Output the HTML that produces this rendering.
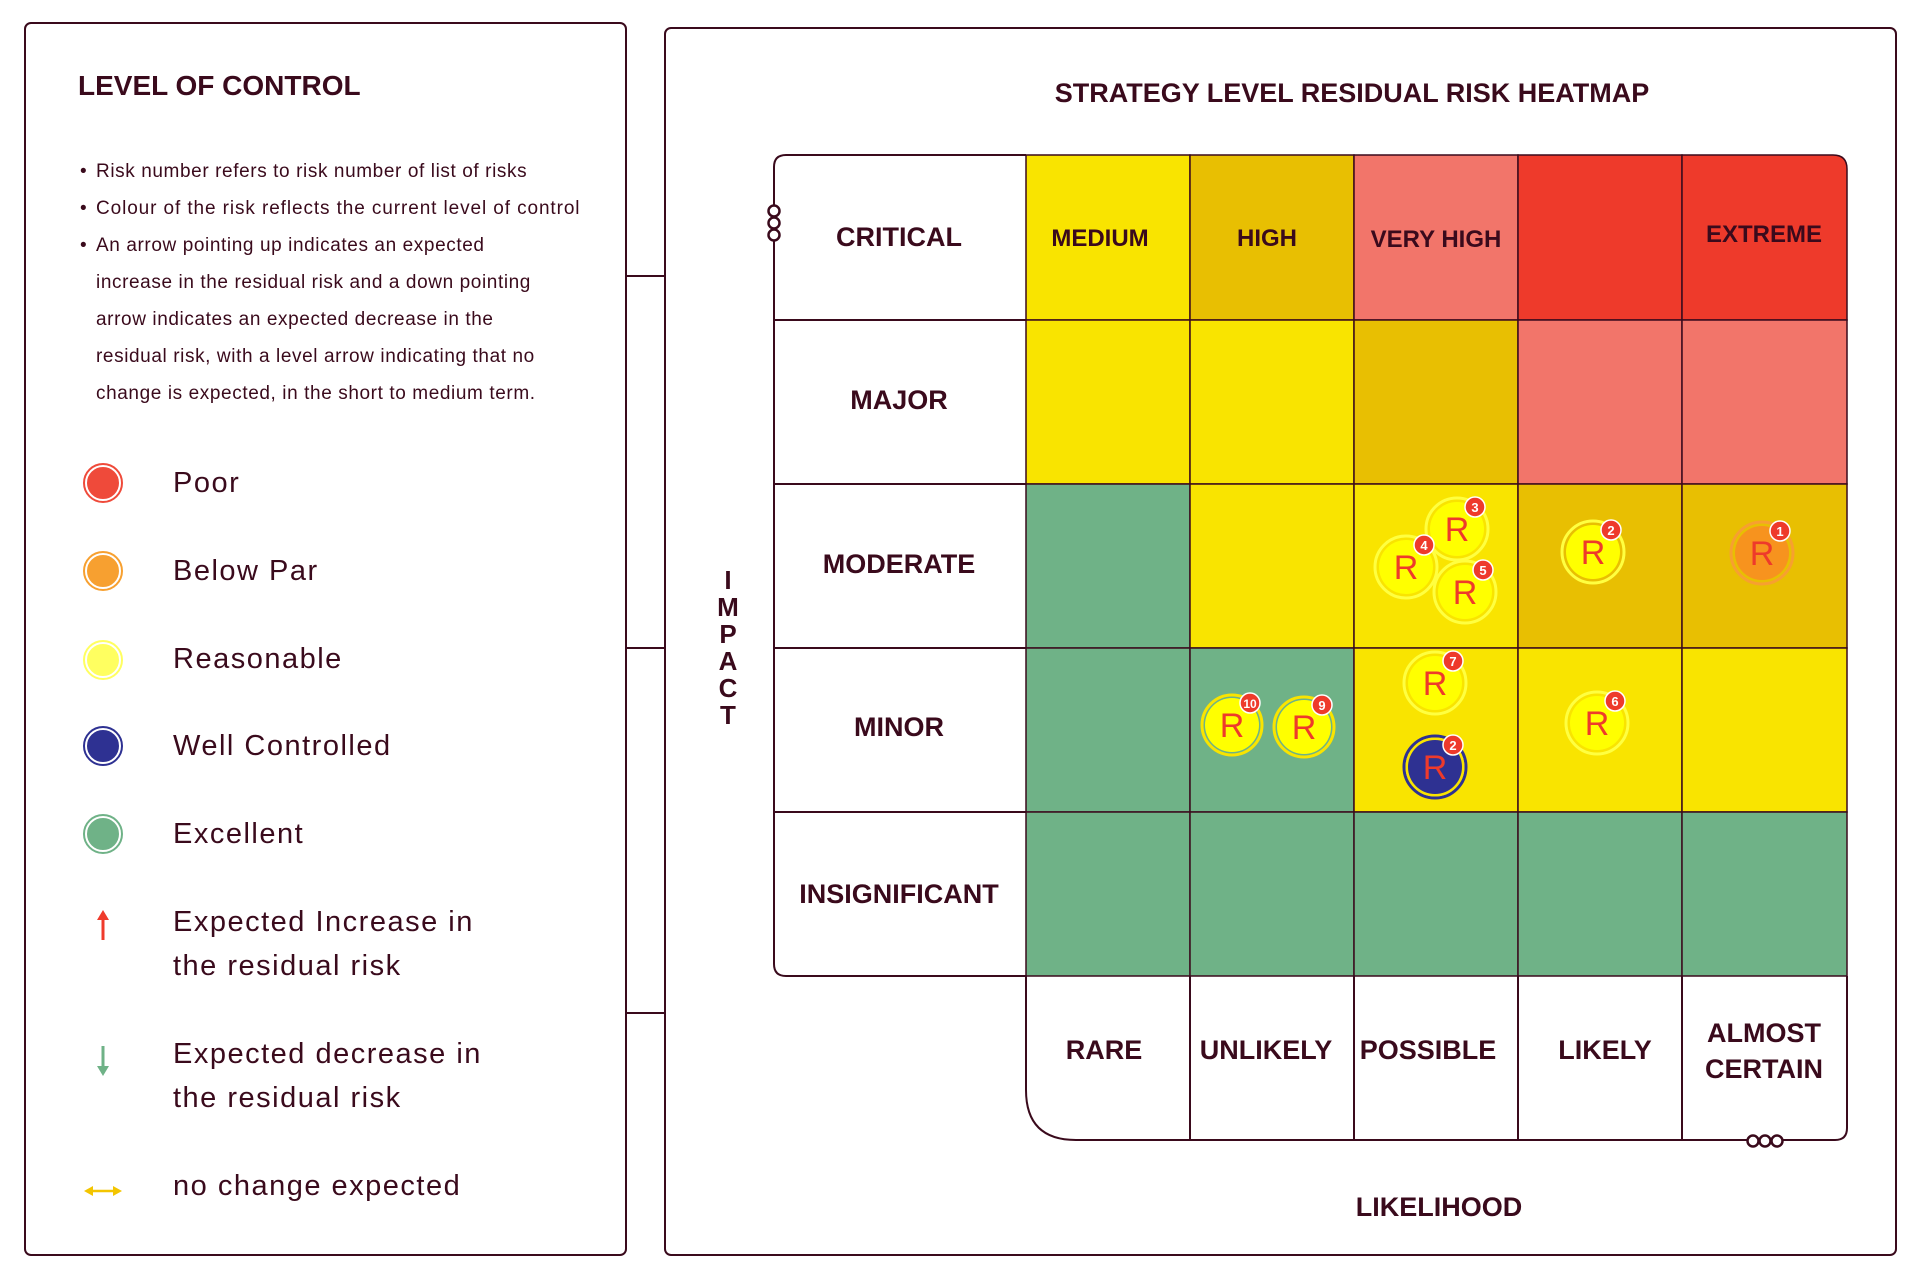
<!DOCTYPE html>
<html><head><meta charset="utf-8"><style>
html,body{margin:0;padding:0;background:#fff;}
svg{display:block;}
text{font-family:"Liberation Sans",sans-serif;fill:#3a0a1c;}
.b{font-weight:bold;}
</style></head><body>
<svg width="1920" height="1280" viewBox="0 0 1920 1280" xmlns="http://www.w3.org/2000/svg">
<defs>
<g id="ooo"><circle cx="0" cy="0" r="5.5" fill="#fff" stroke="#3a0a1c" stroke-width="2.5"/><circle cx="0" cy="12" r="5.5" fill="#fff" stroke="#3a0a1c" stroke-width="2.5"/><circle cx="0" cy="24" r="5.5" fill="#fff" stroke="#3a0a1c" stroke-width="2.5"/></g>
</defs>
<rect x="25" y="23" width="601" height="1232" rx="6" fill="#fff" stroke="#3a0a1c" stroke-width="2"/>
<text x="78" y="95" class="b" font-size="28">LEVEL OF CONTROL</text>
<g font-size="19" letter-spacing="0.6">
<text x="80" y="177">•</text><text x="96" y="177">Risk number refers to risk number of list of risks</text>
<text x="80" y="214">•</text><text x="96" y="214" letter-spacing="0.9">Colour of the risk reflects the current level of control</text>
<text x="80" y="251">•</text><text x="96" y="251">An arrow pointing up indicates an expected</text>
<text x="96" y="288">increase in the residual risk and a down pointing</text>
<text x="96" y="325">arrow indicates an expected decrease in the</text>
<text x="96" y="362">residual risk, with a level arrow indicating that no</text>
<text x="96" y="399">change is expected, in the short to medium term.</text>
</g>
<g font-size="29" letter-spacing="1.5">
<circle cx="103" cy="483" r="17" fill="#ef4a3a" stroke="#fff" stroke-width="2"/><circle cx="103" cy="483" r="19" fill="none" stroke="#ef4a3a" stroke-width="2"/>
<text x="173" y="492">Poor</text>
<circle cx="103" cy="571" r="17" fill="#f7a030" stroke="#fff" stroke-width="2"/><circle cx="103" cy="571" r="19" fill="none" stroke="#f7a030" stroke-width="2"/>
<text x="173" y="580">Below Par</text>
<circle cx="103" cy="660" r="17" fill="#ffff60" stroke="#fff" stroke-width="2"/><circle cx="103" cy="660" r="19" fill="none" stroke="#ffff60" stroke-width="2"/>
<text x="173" y="668">Reasonable</text>
<circle cx="103" cy="746" r="17" fill="#2e3192" stroke="#fff" stroke-width="2"/><circle cx="103" cy="746" r="19" fill="none" stroke="#2e3192" stroke-width="2"/>
<text x="173" y="755">Well Controlled</text>
<circle cx="103" cy="834" r="17" fill="#6fb287" stroke="#fff" stroke-width="2"/><circle cx="103" cy="834" r="19" fill="none" stroke="#6fb287" stroke-width="2"/>
<text x="173" y="843">Excellent</text>
<line x1="103" y1="940" x2="103" y2="918" stroke="#ef3b2c" stroke-width="3"/><polygon points="97,920 109,920 103,910" fill="#ef3b2c"/>
<text x="173" y="931">Expected Increase in</text>
<text x="173" y="975">the residual risk</text>
<line x1="103" y1="1046" x2="103" y2="1068" stroke="#6fb287" stroke-width="3"/><polygon points="97,1066 109,1066 103,1076" fill="#6fb287"/>
<text x="173" y="1063">Expected decrease in</text>
<text x="173" y="1107">the residual risk</text>
<line x1="90" y1="1191" x2="116" y2="1191" stroke="#f3c500" stroke-width="2.5"/><polygon points="84,1191 93,1186 93,1196" fill="#f3c500"/><polygon points="122,1191 113,1186 113,1196" fill="#f3c500"/>
<text x="173" y="1195">no change expected</text>
</g>
<g stroke="#3a0a1c" stroke-width="2"><line x1="626" y1="276" x2="665" y2="276"/><line x1="626" y1="648" x2="665" y2="648"/><line x1="626" y1="1013" x2="665" y2="1013"/></g>
<rect x="665" y="28" width="1231" height="1227" rx="6" fill="#fff" stroke="#3a0a1c" stroke-width="2"/>
<text x="1352" y="102" text-anchor="middle" class="b" font-size="27">STRATEGY LEVEL RESIDUAL RISK HEATMAP</text>
<g stroke="#3a0a1c" stroke-width="1.5">
<rect x="1026" y="155" width="164" height="165" fill="#f9e400"/>
<rect x="1190" y="155" width="164" height="165" fill="#e8bf02"/>
<rect x="1354" y="155" width="164" height="165" fill="#f2756a"/>
<rect x="1518" y="155" width="164" height="165" fill="#ee3a2b"/>
<path d="M1682 155 H1833 Q1847 155 1847 169 V320 H1682 Z" fill="#ee3a2b"/>
<rect x="1026" y="320" width="164" height="164" fill="#f9e400"/>
<rect x="1190" y="320" width="164" height="164" fill="#f9e400"/>
<rect x="1354" y="320" width="164" height="164" fill="#e8bf02"/>
<rect x="1518" y="320" width="164" height="164" fill="#f2756a"/>
<rect x="1682" y="320" width="165" height="164" fill="#f2756a"/>
<rect x="1026" y="484" width="164" height="164" fill="#6fb287"/>
<rect x="1190" y="484" width="164" height="164" fill="#f9e400"/>
<rect x="1354" y="484" width="164" height="164" fill="#f9e400"/>
<rect x="1518" y="484" width="164" height="164" fill="#e8bf02"/>
<rect x="1682" y="484" width="165" height="164" fill="#e8bf02"/>
<rect x="1026" y="648" width="164" height="164" fill="#6fb287"/>
<rect x="1190" y="648" width="164" height="164" fill="#6fb287"/>
<rect x="1354" y="648" width="164" height="164" fill="#f9e400"/>
<rect x="1518" y="648" width="164" height="164" fill="#f9e400"/>
<rect x="1682" y="648" width="165" height="164" fill="#f9e400"/>
<rect x="1026" y="812" width="164" height="164" fill="#6fb287"/>
<rect x="1190" y="812" width="164" height="164" fill="#6fb287"/>
<rect x="1354" y="812" width="164" height="164" fill="#6fb287"/>
<rect x="1518" y="812" width="164" height="164" fill="#6fb287"/>
<rect x="1682" y="812" width="165" height="164" fill="#6fb287"/>
</g>
<g fill="none" stroke="#3a0a1c" stroke-width="2">
<path d="M1026 155 H786 Q774 155 774 167 V964 Q774 976 786 976 H1026"/>
<line x1="774" y1="320" x2="1026" y2="320"/><line x1="774" y1="484" x2="1026" y2="484"/><line x1="774" y1="648" x2="1026" y2="648"/><line x1="774" y1="812" x2="1026" y2="812"/>
<path d="M1026 976 V1090 Q1026 1140 1076 1140 H1835 Q1847 1140 1847 1128 V976"/>
<line x1="1190" y1="976" x2="1190" y2="1140"/><line x1="1354" y1="976" x2="1354" y2="1140"/><line x1="1518" y1="976" x2="1518" y2="1140"/><line x1="1682" y1="976" x2="1682" y2="1140"/>
</g>
<use href="#ooo" x="774" y="211"/>
<g transform="translate(1765,1141) rotate(-90)"><use href="#ooo" x="0" y="-12"/></g>
<g class="b" font-size="27" text-anchor="middle">
<text x="899" y="246">CRITICAL</text>
<text x="899" y="409">MAJOR</text>
<text x="899" y="573">MODERATE</text>
<text x="899" y="736">MINOR</text>
<text x="899" y="903">INSIGNIFICANT</text>
<text x="1104" y="1059">RARE</text>
<text x="1266" y="1059">UNLIKELY</text>
<text x="1428" y="1059">POSSIBLE</text>
<text x="1605" y="1059">LIKELY</text>
<text x="1764" y="1042">ALMOST</text>
<text x="1764" y="1078">CERTAIN</text>
<text x="1439" y="1216">LIKELIHOOD</text>
</g>
<g class="b" font-size="24" text-anchor="middle">
<text x="1100" y="246">MEDIUM</text>
<text x="1267" y="246">HIGH</text>
<text x="1436" y="247">VERY HIGH</text>
<text x="1764" y="242">EXTREME</text>
</g>
<g class="b" font-size="26" text-anchor="middle">
<text x="728" y="589">I</text><text x="728" y="616">M</text><text x="728" y="643">P</text><text x="728" y="670">A</text><text x="728" y="697">C</text><text x="728" y="724">T</text>
</g>
<g>
<g transform="translate(1457,529)"><circle r="27" fill="#ffff00"/><circle r="31" fill="none" stroke="#ffff40" stroke-width="3"/><text y="12" text-anchor="middle" font-size="34" style="fill:#ee3a2b">R</text><circle cx="18" cy="-22" r="10" fill="#ee3a2b" stroke="#fff" stroke-width="1.5"/><text x="18" y="-17" text-anchor="middle" font-size="13" class="b" style="fill:#fff">3</text></g>
<g transform="translate(1406,567)"><circle r="27" fill="#ffff00"/><circle r="31" fill="none" stroke="#ffff40" stroke-width="3"/><text y="12" text-anchor="middle" font-size="34" style="fill:#ee3a2b">R</text><circle cx="18" cy="-22" r="10" fill="#ee3a2b" stroke="#fff" stroke-width="1.5"/><text x="18" y="-17" text-anchor="middle" font-size="13" class="b" style="fill:#fff">4</text></g>
<g transform="translate(1465,592)"><circle r="27" fill="#ffff00"/><circle r="31" fill="none" stroke="#ffff40" stroke-width="3"/><text y="12" text-anchor="middle" font-size="34" style="fill:#ee3a2b">R</text><circle cx="18" cy="-22" r="10" fill="#ee3a2b" stroke="#fff" stroke-width="1.5"/><text x="18" y="-17" text-anchor="middle" font-size="13" class="b" style="fill:#fff">5</text></g>
<g transform="translate(1593,552)"><circle r="27" fill="#ffff00"/><circle r="31" fill="none" stroke="#ffff40" stroke-width="3"/><text y="12" text-anchor="middle" font-size="34" style="fill:#ee3a2b">R</text><circle cx="18" cy="-22" r="10" fill="#ee3a2b" stroke="#fff" stroke-width="1.5"/><text x="18" y="-17" text-anchor="middle" font-size="13" class="b" style="fill:#fff">2</text></g>
<g transform="translate(1762,553)"><circle r="27" fill="#f7931e"/><circle r="31" fill="none" stroke="#f7a030" stroke-width="3"/><text y="12" text-anchor="middle" font-size="34" style="fill:#ee3a2b">R</text><circle cx="18" cy="-22" r="10" fill="#ee3a2b" stroke="#fff" stroke-width="1.5"/><text x="18" y="-17" text-anchor="middle" font-size="13" class="b" style="fill:#fff">1</text></g>
<g transform="translate(1435,683)"><circle r="27" fill="#ffff00"/><circle r="31" fill="none" stroke="#ffff40" stroke-width="3"/><text y="12" text-anchor="middle" font-size="34" style="fill:#ee3a2b">R</text><circle cx="18" cy="-22" r="10" fill="#ee3a2b" stroke="#fff" stroke-width="1.5"/><text x="18" y="-17" text-anchor="middle" font-size="13" class="b" style="fill:#fff">7</text></g>
<g transform="translate(1435,767)"><circle r="27" fill="#2e3192"/><circle r="31" fill="none" stroke="#2e3192" stroke-width="3"/><circle r="28.5" fill="none" stroke="#f9e400" stroke-width="2"/><text y="12" text-anchor="middle" font-size="34" style="fill:#ee3a2b">R</text><circle cx="18" cy="-22" r="10" fill="#ee3a2b" stroke="#fff" stroke-width="1.5"/><text x="18" y="-17" text-anchor="middle" font-size="13" class="b" style="fill:#fff">2</text></g>
<g transform="translate(1597,723)"><circle r="27" fill="#ffff00"/><circle r="31" fill="none" stroke="#ffff40" stroke-width="3"/><text y="12" text-anchor="middle" font-size="34" style="fill:#ee3a2b">R</text><circle cx="18" cy="-22" r="10" fill="#ee3a2b" stroke="#fff" stroke-width="1.5"/><text x="18" y="-17" text-anchor="middle" font-size="13" class="b" style="fill:#fff">6</text></g>
<g transform="translate(1232,725)"><circle r="27" fill="#ffff00"/><circle r="30" fill="none" stroke="#f9e400" stroke-width="3"/><text y="12" text-anchor="middle" font-size="34" style="fill:#ee3a2b">R</text><circle cx="18" cy="-22" r="10" fill="#ee3a2b" stroke="#fff" stroke-width="1.5"/><text x="18" y="-17" text-anchor="middle" font-size="12" class="b" style="fill:#fff">10</text></g>
<g transform="translate(1304,727)"><circle r="27" fill="#ffff00"/><circle r="30" fill="none" stroke="#f9e400" stroke-width="3"/><text y="12" text-anchor="middle" font-size="34" style="fill:#ee3a2b">R</text><circle cx="18" cy="-22" r="10" fill="#ee3a2b" stroke="#fff" stroke-width="1.5"/><text x="18" y="-17" text-anchor="middle" font-size="13" class="b" style="fill:#fff">9</text></g>
</g>
</svg>
</body></html>
